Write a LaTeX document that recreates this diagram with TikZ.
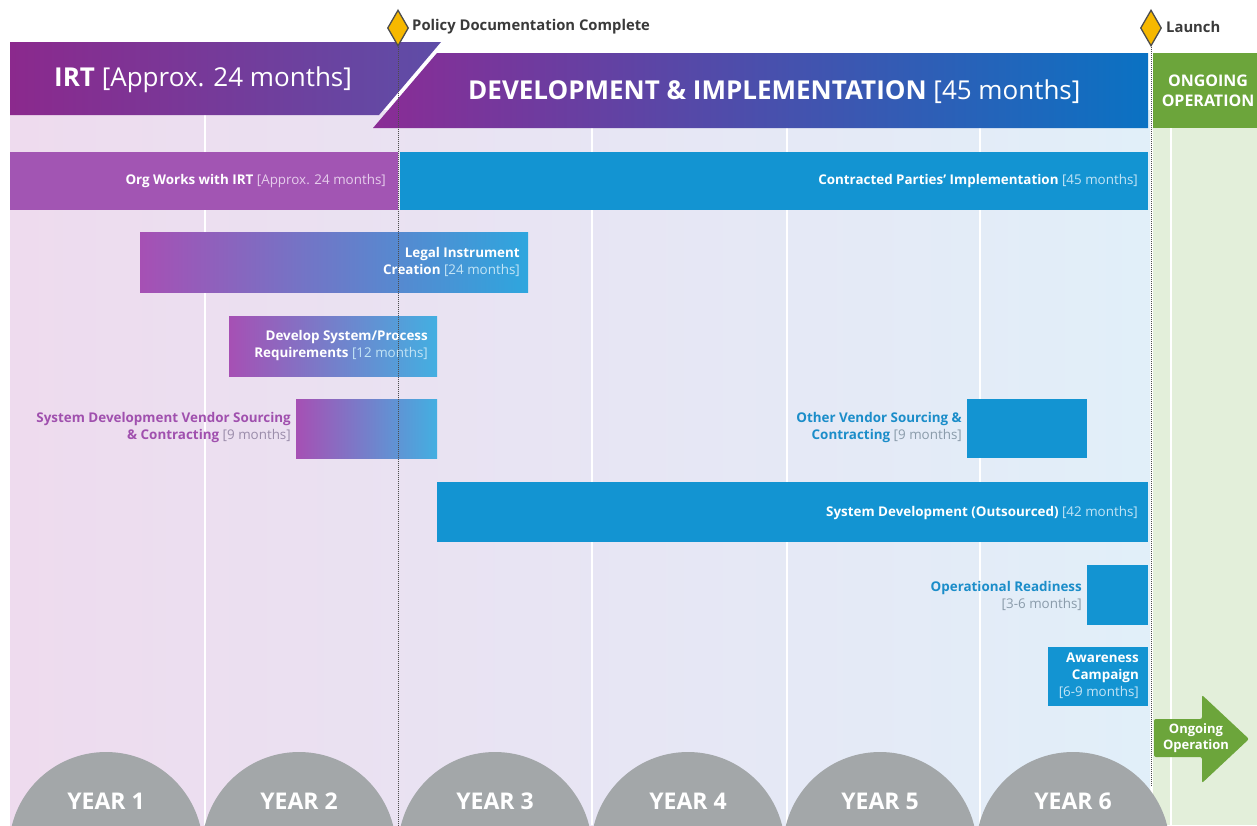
\documentclass[tikz,border=0pt]{standalone}
\usepackage{fontspec}
\setmainfont{Open Sans}
\usetikzlibrary{shapes.geometric}
\definecolor{irtA}{HTML}{8B298D}
\definecolor{irtB}{HTML}{5E4DA7}
\definecolor{devA}{HTML}{8A2C95}
\definecolor{devM}{HTML}{4656B3}
\definecolor{devB}{HTML}{0A72C3}
\definecolor{ongGreen}{HTML}{6CA53B}
\definecolor{bgPink}{HTML}{EEDBEE}
\definecolor{bgMid}{HTML}{E4E6F4}
\definecolor{bgBlue}{HTML}{E1EFF9}
\definecolor{bgGreen}{HTML}{E3EFDA}
\definecolor{orgPurple}{HTML}{A255B3}
\definecolor{barBlue}{HTML}{1394D2}
\definecolor{gradPurple}{HTML}{A650B4}
\definecolor{gradBlue}{HTML}{2EA6DE}
\definecolor{txtPurple}{HTML}{A050AE}
\definecolor{txtBlue}{HTML}{1B8DC9}
\definecolor{brkPurple}{HTML}{9A8CAA}
\definecolor{brkGray}{HTML}{8A9BAA}
\definecolor{brkOnPurple}{HTML}{E6CDEC}
\definecolor{brkOnBlue}{HTML}{C4E5F6}
\definecolor{yearGray}{HTML}{A3A7A9}
\definecolor{msGold}{HTML}{F6B800}
\definecolor{msDark}{HTML}{4D4D4D}
\definecolor{msText}{HTML}{3A3A3A}
\newcommand\mybrk[2]{{\color{#1}[#2]}}
\tikzset{
  bartext/.style={inner sep=0, align=right, text=white, anchor=east, font=\fontsize{13.4}{17}\selectfont},
  outpurple/.style={bartext, text=txtPurple},
  outblue/.style={bartext, text=txtBlue},
  yearlbl/.style={text=white, inner sep=0, font=\fontsize{23}{26}\selectfont\bfseries},
  milestone/.style={diamond, draw=msDark, fill=msGold, line width=1.3pt, minimum width=21pt, minimum height=36pt, inner sep=0},
  mslbl/.style={anchor=west, inner sep=0, text=msText, font=\fontsize{14.8}{17}\selectfont\bfseries},
  msline/.style={draw=msDark, densely dotted, line width=1pt},
  colline/.style={draw=white, line width=2.5pt},
  headtext/.style={anchor=west, inner sep=0, text=white, font=\fontsize{26}{30}\selectfont},
}
\begin{document}
\begin{tikzpicture}[x=1pt,y=-1pt]
\useasboundingbox (0,0) rectangle (1257,825);
\fill[white] (0,0) rectangle (1257,825);
% pastel backgrounds
\shade[left color=bgPink, middle color=bgMid, right color=bgBlue] (10,110) rectangle (1150,825);
\fill[bgGreen] (1153,120) rectangle (1257,825);
% column lines
\foreach \cx in {205,592,787,980,1171}
  \draw[colline] (\cx,115) -- (\cx,825);
% year humps
\begin{scope}
\clip (0,0) rectangle (1257,825);
\foreach \cx in {106,299,495,688,880,1073}
  \fill[yearGray] (\cx,849) circle[radius=97];
\end{scope}
\node[yearlbl] (y1) at (106,801) {YEAR 1};
\node[yearlbl] (y2) at (299,801) {YEAR 2};
\node[yearlbl] (y3) at (495,801) {YEAR 3};
\node[yearlbl] (y4) at (688,801) {YEAR 4};
\node[yearlbl] (y5) at (880,801) {YEAR 5};
\node[yearlbl] (y6) at (1073,801) {YEAR 6};
% header bands
\shade[left color=irtA, right color=irtB] (10,42) -- (441,42) -- (379,115) -- (10,115) -- cycle;
\shade[left color=devA, middle color=devM, right color=devB] (437,53) -- (1148,53) -- (1148,128) -- (373,128) -- cycle;
\fill[ongGreen] (1153,53) rectangle (1257,128);
\node[headtext] (irt) at (54,80) {\textbf{IRT} [Approx. 24 months]};
\node[headtext] (dev) at (468,92) {\textbf{DEVELOPMENT \& IMPLEMENTATION} [45 months]};
\node[inner sep=0, align=center, text=white, font=\fontsize{16}{20}\selectfont\bfseries] (ong) at (1208,91) {ONGOING\\OPERATION};
% bars
\fill[orgPurple] (10,152) rectangle (398,210);
\fill[barBlue] (400,152) rectangle (1148,210);
\shade[left color=gradPurple, right color=gradBlue] (140,232) rectangle (528,292);
\shade[left color=gradPurple, right color=gradBlue!90!white] (229,316) rectangle (437,376);
\shade[left color=gradPurple, right color=gradBlue!90!white] (296,399) rectangle (437,458);
\fill[barBlue] (967,399) rectangle (1087,458);
\fill[barBlue] (437,482) rectangle (1148,542);
\fill[barBlue] (1087,565) rectangle (1148,625);
\fill[barBlue] (1048,647) rectangle (1148,706);
% bar labels
\node[bartext] (org) at (386,181) {\textbf{Org Works with IRT} \mybrk{brkOnPurple}{Approx. 24 months}};
\node[bartext] (cpi) at (1138,181) {\textbf{Contracted Parties’ Implementation} \mybrk{brkOnBlue}{45 months}};
\node[bartext] (legal) at (520,262) {\textbf{Legal Instrument}\\\textbf{Creation} \mybrk{brkOnBlue}{24 months}};
\node[bartext] (req) at (428,346) {\textbf{Develop System/Process}\\\textbf{Requirements} \mybrk{brkOnBlue}{12 months}};
\node[outpurple] (sdv) at (291,428) {\textbf{System Development Vendor Sourcing}\\\textbf{\& Contracting} \mybrk{brkPurple}{9 months}};
\node[outblue] (ovs) at (962,428) {\textbf{Other Vendor Sourcing \&}\\\textbf{Contracting} \mybrk{brkGray}{9 months}};
\node[bartext] (sdo) at (1138,513) {\textbf{System Development (Outsourced)} \mybrk{brkOnBlue}{42 months}};
\node[outblue] (opr) at (1082,596) {\textbf{Operational Readiness}\\{\mybrk{brkGray}{3-6 months}}};
\node[bartext] (awc) at (1139,676) {\textbf{Awareness}\\\textbf{Campaign}\\{\mybrk{brkOnBlue}{6-9 months}}};
% ongoing arrow
\fill[ongGreen, rounded corners=2pt] (1154,719) -- (1202,719) -- (1202,695) -- (1249,739) -- (1202,783) -- (1202,757) -- (1154,757) -- cycle;
\node[inner sep=0, align=center, text=white, font=\fontsize{13}{16}\selectfont\bfseries] (ongarrow) at (1196,738) {Ongoing\\Operation};
% milestones
\node[milestone] (pdc) at (398,28) {};
\node[mslbl] (pdclbl) at (412,27) {Policy Documentation Complete};
\coordinate (pdcend) at (398,825);
\draw[msline] (pdc.south) -- (pdcend);
\node[milestone] (lau) at (1151,28) {};
\node[mslbl] (laulbl) at (1166,27) {Launch};
\coordinate (lauend) at (1151,785);
\draw[msline] (lau.south) -- (lauend);
\end{tikzpicture}
\end{document}
